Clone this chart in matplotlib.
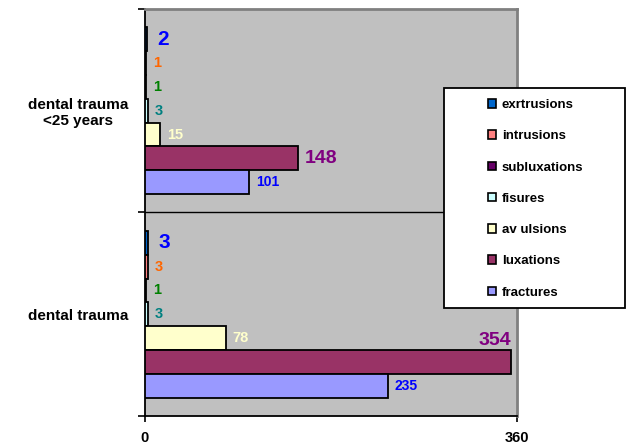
import matplotlib.pyplot as plt
from matplotlib.patches import Patch, Rectangle

plt.rcParams['font.family'] = ['Liberation Sans', 'DejaVu Sans']
plt.rcParams['font.weight'] = 'bold'

categories = ['dental trauma', 'dental trauma\n<25 years']
series = ['exrtrusions', 'intrusions', 'subluxations', 'fisures', 'av ulsions', 'luxations', 'fractures']
all_ages = [3, 3, 1, 3, 78, 354, 235]
under_25 = [2, 1, 1, 3, 15, 148, 101]

bar_colors = ['#0066CC', '#FF8080', '#660066', '#CCFFFF', '#FFFFCC', '#993366', '#9999FF']
label_colors = ['#0000FF', '#FF6600', '#008000', '#008080', '#FFFFCC', '#800080', '#0000FF']
label_sizes = [15, 10.5, 10.5, 10.5, 10.5, 14, 10]

xmax = 360
h = 0.117

fig = plt.figure(figsize=(6.29, 4.46), dpi=100)
ax = fig.add_axes([0.2305, 0.0673, 0.5914, 0.9125])
ax.set_facecolor('#C0C0C0')

for i, name in enumerate(series):
    vals = [all_ages[i], under_25[i]]
    ypos = [c + (3 - i) * h for c in range(len(categories))]
    ax.barh(ypos, vals, height=h, color=bar_colors[i], edgecolor='black',
            linewidth=1.3, zorder=3)
    gap = 10 if label_sizes[i] >= 15 else 7
    for y, v in zip(ypos, vals):
        if v > 0.9 * xmax:
            # no room on the right: put it above the bar end
            ax.annotate(str(v), (v, y + h / 2), xytext=(0, 1), textcoords='offset pixels',
                        ha='right', va='bottom', color=label_colors[i],
                        fontsize=label_sizes[i], fontweight='bold', zorder=4)
        else:
            ax.annotate(str(v), (v, y), xytext=(gap, 0), textcoords='offset pixels',
                        ha='left', va='center', color=label_colors[i],
                        fontsize=label_sizes[i], fontweight='bold', zorder=4)

ax.axhline(0.5, color='black', lw=1, zorder=2)

ax.set_xlim(0, xmax)
ax.set_ylim(-0.5, 1.5)
ax.set_xticks([0, xmax])
ax.tick_params(axis='x', direction='out', length=4, width=1.2, labelsize=10.5, pad=7)

ax.set_yticks([-0.5, 0.5, 1.5])
ax.set_yticklabels([])
ax.set_yticks([0, 1], minor=True)
ax.set_yticklabels(categories, minor=True, fontsize=11, fontweight='bold',
                   multialignment='center')
ax.tick_params(axis='y', which='major', direction='out', length=5, width=1.2)
ax.tick_params(axis='y', which='minor', length=0, pad=12)

for s in ['left', 'bottom']:
    ax.spines[s].set_color('black')
    ax.spines[s].set_linewidth(1.3)
for s in ['top', 'right']:
    ax.spines[s].set_color('#808080')
    ax.spines[s].set_linewidth(2)

# legend box
fig.add_artist(Rectangle((444 / 629, 1 - 308 / 446), (625 - 444) / 629, (308 - 88) / 446,
                         transform=fig.transFigure, facecolor='white',
                         edgecolor='black', lw=1.3, zorder=4))
handles = [Patch(facecolor=c, edgecolor='black', lw=1.2) for c in bar_colors]
fig.legend(handles, series, loc='upper left', bbox_to_anchor=(488 / 629, 1 - 99 / 446),
           frameon=False, fontsize=9.5, handlelength=0.6, handleheight=0.6,
           handletextpad=0.45, labelspacing=1.46, borderpad=0, borderaxespad=0)

fig.savefig('out.png', dpi=100)
